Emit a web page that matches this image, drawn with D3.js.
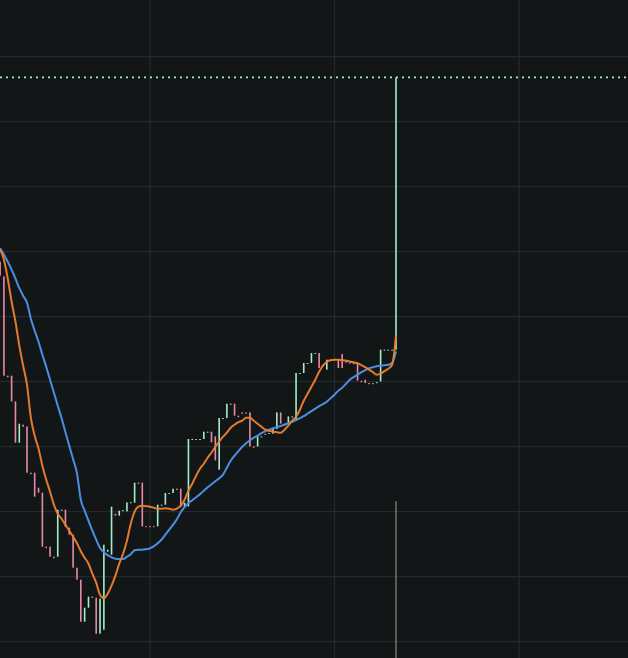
<!DOCTYPE html>
<html>
<head>
<meta charset="utf-8">
<script src="https://cdn.jsdelivr.net/npm/d3@7/dist/d3.min.js"></script>
<style>
  html, body { margin: 0; padding: 0; background: #131617; overflow: hidden; }
  svg { display: block; }
</style>
</head>
<body>
<svg id="chart" width="628" height="658"></svg>
<script>
// ---- data (price units; first candle index = -1) ----
const firstIndex = -1;
const opens = [380, 365.3, 266, 266, 240.3, 199, 217, 215.3, 169, 169, 154, 149, 95, 95, 85, 85, 131, 132, 114, 107,
  74, 62, 20, 34, 44.5, 44, 8, 12, 90, 87, 128, 126, 130.5, 130.3, 139, 139, 158.5, 159, 115.5, 115.5,
  115.5, 115.3, 136.5, 137, 148.2, 148.7, 152.5, 153, 135, 135.3, 202.2, 202.2, 202.2, 202.7, 209.5, 210, 205.3, 172, 223.2, 223.7,
  237.5, 238, 226, 229.3, 229.3, 229.3, 195.3, 195.3, 204.8, 207.5, 208.2, 208, 212.7, 229.3, 218, 218, 224.8, 222, 268.2, 268.7,
  278.2, 278.7, 288.2, 288.7, 277, 272, 281.5, 282.7, 282.7, 287.7, 280.3, 279.3, 279, 278.7, 261, 262, 258.7, 258.7, 259, 260.3,
  291.5, 291.5, 291.5, 292];
const closes = [366, 266, 264.5, 240.3, 199, 218, 215, 169, 167.5, 145, 149, 95, 93.5, 85, 83.5, 132, 132, 115, 107, 74,
  62, 20, 34, 45, 45, 8, 43, 97, 92, 135, 126, 131, 131.5, 139.3, 139.5, 159, 159, 115.3, 114.5, 114.5,
  114.5, 137, 137, 148.7, 148.7, 153, 153, 134.7, 139, 202.7, 202.7, 202.7, 202.7, 210, 210, 199.3, 181.3, 223.7, 223.7, 238,
  238, 226, 224.5, 228, 228, 195.3, 194, 205.3, 205.3, 208, 208.7, 212.7, 229.3, 218, 216.5, 225.3, 225.3, 268.7, 268.7, 278.7,
  278.7, 288.7, 288.7, 273.7, 275.5, 282, 282, 281.5, 273.7, 273.7, 279, 278, 277.5, 261, 259.5, 258.7, 257.5, 257.5, 259.5, 292,
  292, 292, 292, 564.3];
const maFast = [392, 382, 363, 340, 320, 296, 276, 257, 224, 206, 193, 176, 162, 150, 137, 128, 123, 117, 111, 105,
  98.5, 90.5, 84, 78, 68, 59, 47, 43.5, 48, 56, 66, 78, 88, 101, 118, 130, 135, 136, 135.5, 135,
  134, 133, 133, 133.5, 133, 132, 133, 136, 142, 151, 158, 166, 173, 178, 184, 189, 195, 200, 205, 209,
  214, 217, 219.5, 221, 224, 224, 221, 218, 215, 212, 211, 210, 209.5, 209, 212, 216, 221, 225, 232, 241,
  248, 255, 262, 270, 276, 280, 281.5, 282, 282, 281.5, 281, 280.3, 279.5, 278.5, 276.5, 274.5, 272, 269.5, 267, 268,
  270.5, 273, 277, 306];
const maSlow = [393.5, 387, 380, 372, 363, 353.5, 346, 339, 323, 311, 300, 287, 275, 262, 249, 236, 223.5, 209.5, 196, 182.5,
  168.5, 142, 131, 121, 111, 102, 93.7, 89.5, 86.5, 84.5, 83, 82.7, 82.7, 85, 87.5, 91.5, 92, 92, 92.5, 93.3,
  95.5, 98.5, 102, 107, 112, 117, 122.5, 129.5, 134.5, 138.5, 141.5, 144.5, 147.5, 151, 154.5, 157.5, 160.5, 163.5, 167, 174,
  181, 186, 190.5, 195, 198.5, 201.5, 204, 206, 208.5, 210.5, 212, 213.5, 214.5, 215.7, 217, 218.5, 220, 221.5, 223.5, 225.5,
  228, 230.5, 233, 235.5, 237.5, 240, 243.5, 247, 251, 254, 258, 262, 264.5, 267, 269.5, 271.5, 273.5, 274.5, 275.5, 276,
  276.5, 277, 279, 290.3];
const volumeIndex = [102];
const volumeValue = [98];
const lastPrice = 564.3;
const gridPrices = [0, 65, 130, 195, 260, 325, 390, 455, 520, 585, 650];
const gridIndices = [38, 86, 134];

// ---- layout ----
const W = 628, H = 658;
const svg = d3.select("#chart");
svg.append("rect").attr("width", W).attr("height", H).attr("fill", "#131617");

const x = d3.scaleLinear().domain([0, 102]).range([3.93, 396.0]);
const y = d3.scaleLinear().domain([-16.3, 641.7]).range([H, 0]);
const yVol = d3.scaleLinear().domain([0, 100]).range([H, H - 160]);

const candles = opens.map((o, k) => ({ i: firstIndex + k, o, c: closes[k] }));

// grid
const grid = svg.append("g").attr("stroke", "#25292b").attr("stroke-width", 1.3);
grid.selectAll("line.h").data(gridPrices).join("line").attr("class", "h")
  .attr("x1", 0).attr("x2", W).attr("y1", d => y(d)).attr("y2", d => y(d));
grid.selectAll("line.v").data(gridIndices).join("line").attr("class", "v")
  .attr("y1", 0).attr("y2", H).attr("x1", d => x(d)).attr("x2", d => x(d));

// volume
svg.append("g").selectAll("rect").data(volumeIndex.map((i, k) => ({ i, v: volumeValue[k] })))
  .join("rect")
  .attr("x", d => x(d.i) - 0.6).attr("width", 1.2)
  .attr("y", d => yVol(d.v)).attr("height", d => yVol(0) - yVol(d.v))
  .attr("fill", "#7f8f89");

// last price dotted line
svg.append("line")
  .attr("x1", 0).attr("x2", W).attr("y1", y(lastPrice)).attr("y2", y(lastPrice))
  .attr("stroke", "#a3edc9").attr("stroke-width", 1.6).attr("stroke-dasharray", "2 4");

// candles
const green = "#a3edc9", pink = "#e68aa8";
svg.append("g").selectAll("rect").data(candles).join("rect")
  .attr("x", d => x(d.i) - 0.8).attr("width", 1.6)
  .attr("y", d => y(Math.max(d.o, d.c)))
  .attr("height", d => Math.max(1, Math.abs(y(d.o) - y(d.c))))
  .attr("fill", d => d.c >= d.o ? green : pink);

// moving averages
const line = arr => d3.line()
  .x((v, k) => x(firstIndex + k)).y(v => y(v))
  .curve(d3.curveMonotoneX)(arr);
svg.append("path").attr("d", line(maSlow)).attr("fill", "none")
  .attr("stroke", "#4a8fe3").attr("stroke-width", 2);
svg.append("path").attr("d", line(maFast)).attr("fill", "none")
  .attr("stroke", "#ee7f2d").attr("stroke-width", 2).attr("stroke-opacity", 0.95);
</script>
</body>
</html>
